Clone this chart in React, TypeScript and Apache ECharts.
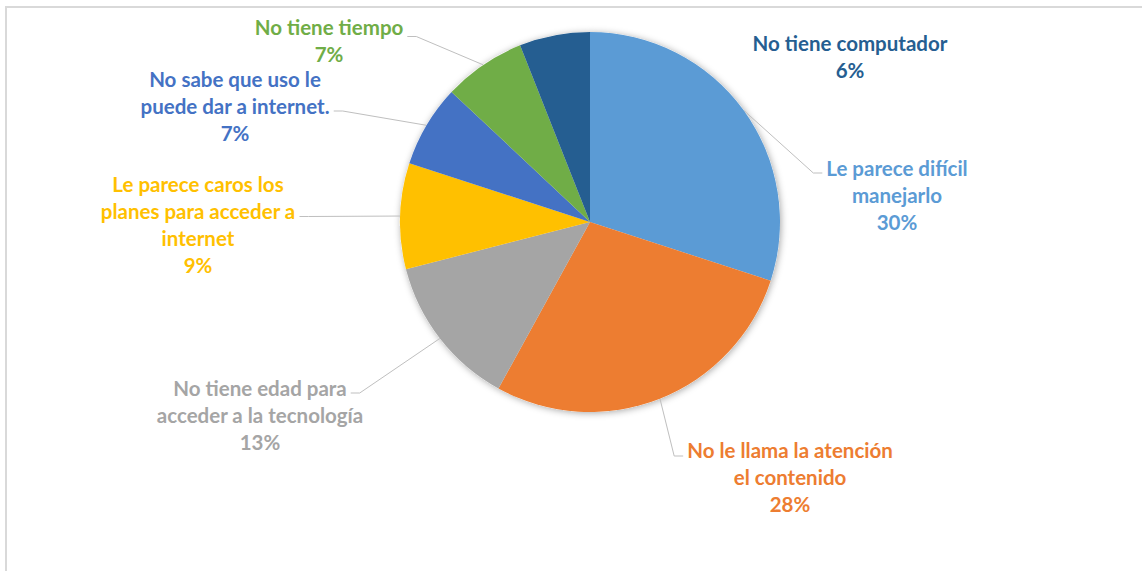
import React, { useEffect, useRef } from "react";
import * as echarts from "echarts";

// ---- data ----
const CATEGORIES = [
  "Le parece difícil\nmanejarlo",
  "No le llama la atención\nel contenido",
  "No tiene edad para\nacceder a la tecnología",
  "Le parece caros los\nplanes para acceder a\ninternet",
  "No sabe que uso le\npuede dar a internet.",
  "No tiene tiempo",
  "No tiene computador",
];
const VALUES = [30, 28, 13, 9, 7, 7, 6];
const COLORS = ["#5B9BD5", "#ED7D31", "#A5A5A5", "#FFC000", "#4472C4", "#70AD47", "#255E91"];

// ---- layout (label block centres, which text line the leader attaches to) ----
const PIE_CENTER = [590, 222];
const PIE_RADIUS = 190;
const LABEL_CENTERS = [
  [897, 195],
  [790, 477],
  [260, 415],
  [198, 224],
  [235, 106],
  [329, 40],
  [850, 56],
];
const LEADER_LINE_INDEX = [0, 0, 0, 1, 1, 0, -1];
const LEADER_DY = [5, 6, 5, 6, 5, 10, 0];
const LINE_H = 27;
const FONT = "Lato";

let ctx: CanvasRenderingContext2D | null = null;
function measure(text: string, size: number) {
  if (!ctx) ctx = document.createElement("canvas").getContext("2d");
  if (!ctx) return text.length * size * 0.5;
  ctx.font = `bold ${size}px ${FONT}`;
  return ctx.measureText(text).width;
}

function labelText(i: number) {
  const total = VALUES.reduce((a, b) => a + b, 0);
  return `${CATEGORIES[i]}\n${Math.round((VALUES[i] / total) * 100)}%`;
}

export default function App() {
  const ref = useRef<HTMLDivElement>(null);
  useEffect(() => {
    if (!ref.current) return;
    const chart = echarts.init(ref.current, undefined, { renderer: "svg" });
    const fontSize = Math.round(((100 * 196) / measure("No tiene computador", 100)) * 2) / 2;

    const data = VALUES.map((v, i) => ({
      value: v,
      name: CATEGORIES[i],
      itemStyle: { color: COLORS[i] },
      label: { color: COLORS[i] },
      labelLine: { show: LEADER_LINE_INDEX[i] >= 0 },
    }));

    chart.setOption({
      animation: false,
      backgroundColor: "#ffffff",
      graphic: [
        {
          type: "rect",
          shape: { x: 6, y: 7, width: 1180, height: 620 },
          style: { fill: "none", stroke: "#D9D9D9", lineWidth: 2 },
          silent: true,
          z: -10,
        },
      ],
      series: [
        {
          type: "pie",
          center: PIE_CENTER,
          radius: PIE_RADIUS,
          startAngle: 90,
          silent: true,
          z: 1,
          label: { show: false },
          labelLine: { show: false },
          itemStyle: {
            color: "#ffffff",
            shadowBlur: 7,
            shadowColor: "rgba(0,0,0,0.35)",
            shadowOffsetX: 1,
            shadowOffsetY: 1,
          },
          data: VALUES.map((v, i) => ({ value: v, name: CATEGORIES[i] })),
        },
        {
          type: "pie",
          center: PIE_CENTER,
          radius: PIE_RADIUS,
          startAngle: 90,
          z: 2,
          avoidLabelOverlap: false,
          itemStyle: { borderWidth: 0 },
          label: {
            show: true,
            position: "outside",
            formatter: (p: any) => labelText(p.dataIndex),
            fontFamily: FONT,
            fontWeight: "bold",
            fontSize,
            lineHeight: LINE_H,
            align: "center",
          },
          labelLine: {
            show: true,
            length: 20,
            length2: 10,
            smooth: false,
            lineStyle: { color: "#BFBFBF", width: 1 },
          },
          labelLayout: (params: any) => {
            const i = params.dataIndex;
            const [lx, ly] = LABEL_CENTERS[i];
            const lines = labelText(i).split("\n");
            const n = lines.length;
            const res: any = { x: lx, y: ly, align: "center", verticalAlign: "middle" };
            const k = LEADER_LINE_INDEX[i];
            if (k >= 0 && params.labelLinePoints) {
              const p0 = params.labelLinePoints[0];
              const yk = ly - ((n - 1) * LINE_H) / 2 + k * LINE_H + LEADER_DY[i];
              const w = measure(lines[k], fontSize);
              const isLeft = lx < PIE_CENTER[0];
              const ex = isLeft ? lx + w / 2 + 4 : lx - w / 2 - 4;
              const bx = isLeft ? ex + 9 : ex - 9;
              res.labelLinePoints = [
                [p0[0], p0[1]],
                [bx, yk],
                [ex, yk],
              ];
            }
            return res;
          },
          data,
        },
      ],
    });
    return () => chart.dispose();
  }, []);

  return (
    <div
      ref={ref}
      style={{ position: "fixed", left: 0, top: 0, width: 1142, height: 571 }}
    />
  );
}
